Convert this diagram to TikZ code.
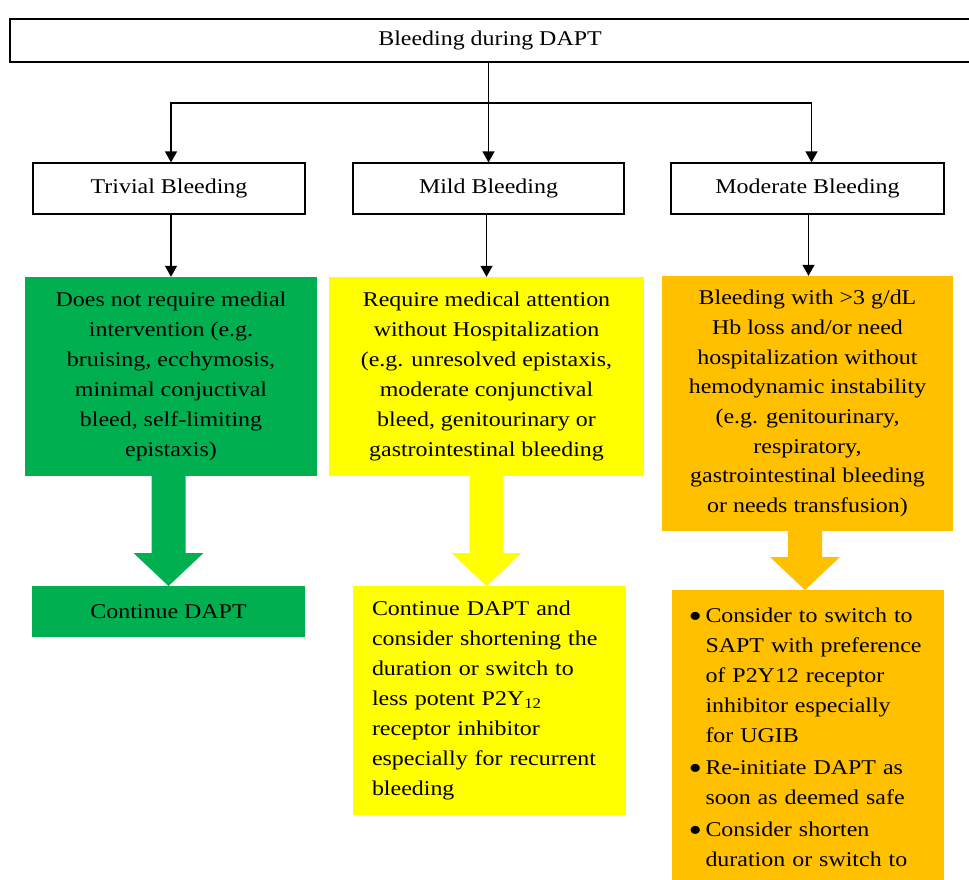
\documentclass[tikz,border=0pt]{standalone}
\usepackage{fontspec}
\usepackage{graphicx}
\setmainfont{Liberation Serif}[FakeStretch=1.14]
\usetikzlibrary{arrows.meta,calc}
\definecolor{gfill}{HTML}{00B050}
\definecolor{yfill}{HTML}{FFFF00}
\definecolor{ofill}{HTML}{FFC000}
\newcommand\blockarr[5]{% color, x centre, y start, y tip, y head top
  \fill[#1] (#2-17,#3) -- (#2+17,#3) -- (#2+17,#5) -- (#2+35,#5) -- (#2,#4) -- (#2-35,#5) -- (#2-17,#5) -- cycle;}
\newcommand\bul{\makebox[16pt][l]{\hspace{-1pt}\raisebox{-5pt}{\scalebox{1.6}{\textbullet}}}}
\newcommand\ind{\hspace*{16pt}}
\begin{document}
\begin{tikzpicture}[x=1pt,y=-1pt,
  txt/.style={font=\fontsize{21}{30}\selectfont},
  wbox/.style={draw=black,line width=1.2pt,fill=white,rectangle,inner sep=0pt,txt,align=center},
  cbox/.style={rectangle,inner sep=0pt,txt},
  arr/.style={line width=1.2pt,-{Triangle[length=11pt,width=12pt]}}]
\useasboundingbox (0,0) rectangle (969,879);
\clip (0,0) rectangle (969,879);
\fill[white] (0,0) rectangle (969,879);

% header and level boxes
\node[wbox,minimum width=960,minimum height=43] (top) at (490,40.5) {Bleeding during DAPT};
\node[wbox,minimum width=272,minimum height=51] (triv) at (169,188.5) {Trivial Bleeding};
\node[wbox,minimum width=271,minimum height=51] (mild) at (488.5,188.5) {Mild Bleeding};
\node[wbox,minimum width=273,minimum height=51] (mod) at (807.5,188.5) {Moderate Bleeding};

% coloured description boxes
\node[cbox,fill=gfill,minimum width=292,minimum height=199,align=center] (g1) at (171,376.5)
  {Does not require medial\\intervention (e.g.\\bruising, ecchymosis,\\minimal conjuctival\\bleed, self-limiting\\epistaxis)};
\node[cbox,fill=yfill,minimum width=315,minimum height=199,align=center] (y1) at (486.5,376.5)
  {Require medical attention\\without Hospitalization\\(e.g. unresolved epistaxis,\\moderate conjunctival\\bleed, genitourinary or\\gastrointestinal bleeding};
\node[cbox,fill=ofill,minimum width=291,minimum height=255,align=center,font=\fontsize{21}{29.7}\selectfont] (o1) at (807.5,403.5)
  {Bleeding with >3 g/dL\\Hb loss and/or need\\hospitalization without\\hemodynamic instability\\(e.g. genitourinary,\\respiratory,\\gastrointestinal bleeding\\or needs transfusion)};

% action boxes
\node[cbox,fill=gfill,minimum width=273,minimum height=51] (g2) at (168.5,611.5) {Continue DAPT};
\node[cbox,fill=yfill,minimum width=273,minimum height=229,align=left,text width=235] (y2) at (489.5,700.5)
  {Continue DAPT and\\consider shortening the\\duration or switch to\\less potent P2Y\textsubscript{12}\\receptor inhibitor\\especially for recurrent\\bleeding};
\node[cbox,fill=ofill,minimum width=272,minimum height=294,align=left,text width=237,anchor=north] (o2) at (808,590)
  {\bul Consider to switch to\\\ind SAPT with preference\\\ind of P2Y12 receptor\\\ind inhibitor especially\\\ind for UGIB\\[2pt]%
   \bul Re-initiate DAPT as\\\ind soon as deemed safe\\[2pt]%
   \bul Consider shorten\\\ind duration or switch to};

% block arrows
\blockarr{gfill}{168.5}{475}{586}{553}
\blockarr{yfill}{486.5}{475}{586}{553}
\blockarr{ofill}{805}{530}{590}{557}

% connectors
\coordinate (jn) at (488.5,103);
\draw[arr] (top.south -| mild.north) -- (mild.north);
\draw[arr] (jn) -| ([xshift=2pt]triv.north);
\draw[arr] (jn) -| ([xshift=4pt]mod.north);
\draw[arr] ([xshift=2pt]triv.south) -- ([xshift=2pt]triv.south |- g1.north);
\draw[arr] ([xshift=-2pt]mild.south) -- ([xshift=-2pt]mild.south |- y1.north);
\draw[arr] ([xshift=1pt]mod.south) -- ([xshift=1pt]mod.south |- o1.north);
\end{tikzpicture}
\end{document}
